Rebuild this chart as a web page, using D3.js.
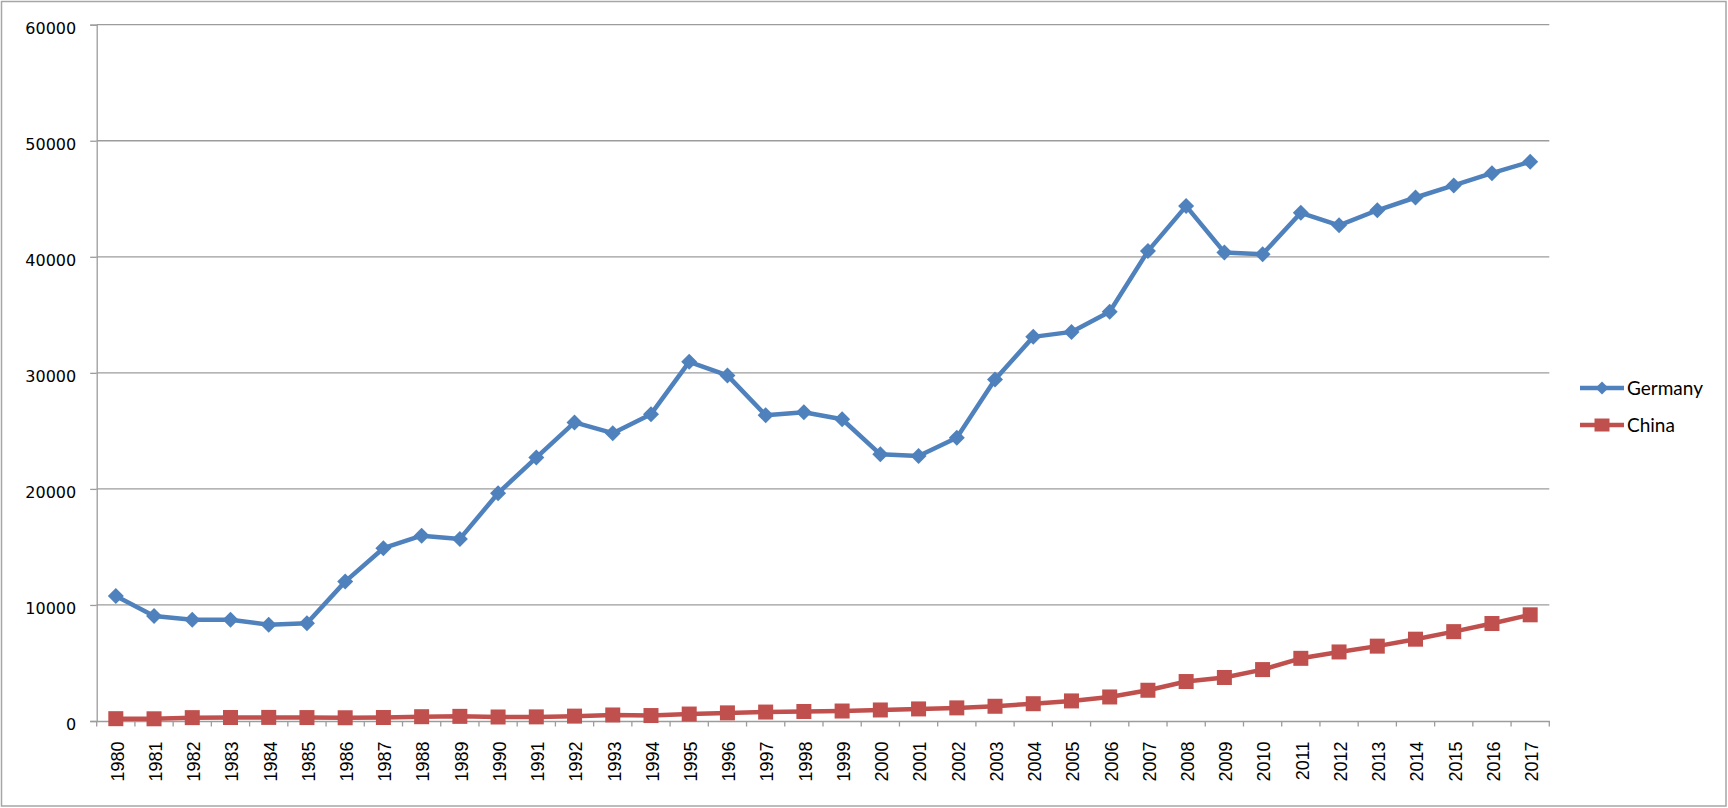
<!DOCTYPE html>
<html>
<head>
<meta charset="utf-8">
<script src="https://cdn.jsdelivr.net/npm/d3@7"></script>
<style>
  html, body { margin: 0; padding: 0; background: #fff; }
  svg { display: block; }
</style>
</head>
<body>
<svg id="chart" width="1728" height="808"></svg>
<script>
const years = [1980,1981,1982,1983,1984,1985,1986,1987,1988,1989,1990,1991,1992,1993,1994,1995,1996,1997,1998,1999,2000,2001,2002,2003,2004,2005,2006,2007,2008,2009,2010,2011,2012,2013,2014,2015,2016,2017];
const germany = [10770,9050,8730,8720,8300,8420,12010,14890,15970,15690,19630,22700,25730,24800,26440,30950,29780,26350,26600,26000,22980,22840,24400,29430,33100,33530,35260,40490,44370,40380,40230,43790,42710,44010,45110,46150,47210,48190];
const china = [200,190,290,300,310,295,280,300,370,400,345,355,420,520,470,600,700,770,820,860,950,1040,1130,1270,1490,1730,2070,2650,3400,3750,4430,5400,5950,6450,7050,7700,8400,9150];
const yTicks = [0,10000,20000,30000,40000,50000,60000];
const seriesNames = ["Germany","China"];
const seriesColors = ["#4F81BD","#C0504D"];

(function () {
const svg = d3.select("#chart");
const W = 1728, H = 808;
const pLeft = 96.7, pRight = 1549.3, pTop = 24.7, pBottom = 721;

// outer frame
svg.append("rect").attr("x",1.5).attr("y",1.5).attr("width",W-3.5).attr("height",H-3.5)
  .attr("fill","#fff").attr("stroke","#a6a6a6").attr("stroke-width",1.5);

const x = d3.scaleBand().domain(years).range([pLeft,pRight]).paddingInner(0).paddingOuter(0);
const y = d3.scaleLinear().domain([0,60000]).range([pBottom,pTop]);
const gridColor = "#9c9c9c";

// gridlines
svg.append("g").selectAll("line").data(yTicks.filter(d=>d>0)).join("line")
  .attr("x1",pLeft).attr("x2",pRight)
  .attr("y1",d=>y(d)).attr("y2",d=>y(d))
  .attr("stroke",gridColor).attr("stroke-width",1.3);

// y axis
const yAxis = d3.axisLeft(y).tickValues(yTicks).tickSize(6.5).tickPadding(14).tickFormat(d3.format("d"));
const gy = svg.append("g").attr("transform",`translate(${pLeft},0)`).call(yAxis);
gy.select(".domain").attr("stroke",gridColor).attr("stroke-width",1.3);
gy.selectAll(".tick line").attr("stroke",gridColor).attr("stroke-width",1.3);
gy.selectAll(".tick text").attr("fill","#000").attr("font-family","DejaVu Sans").attr("font-size",16)
  .attr("dy","0.52em");

// x axis
const xAxis = d3.axisBottom(x).tickSize(0).tickFormat(d=>String(d));
const gx = svg.append("g").attr("transform",`translate(0,${pBottom})`).call(xAxis);
gx.select(".domain").attr("stroke",gridColor).attr("stroke-width",1.3);
gx.selectAll(".tick text")
  .attr("fill","#000").attr("font-family","Liberation Sans").attr("font-size",18)
  .attr("text-anchor","end")
  .attr("transform","translate(1.5,20.5) rotate(-90)")
  .attr("x",0).attr("y",0).attr("dy","0.35em");
// boundary tick marks
const bounds = years.map(d=>x(d)).concat([x(years[years.length-1])+x.bandwidth()]);
svg.append("g").selectAll("line").data(bounds).join("line")
  .attr("x1",d=>d).attr("x2",d=>d).attr("y1",pBottom).attr("y2",pBottom+5.5)
  .attr("stroke",gridColor).attr("stroke-width",1.3);

const cx = d => x(d) + x.bandwidth()/2;
const line = d3.line().x((d,i)=>cx(years[i])).y(d=>y(d));

const diamond = (s) => `M0,${-s}L${s},0L0,${s}L${-s},0Z`;

// China
svg.append("path").datum(china).attr("d",line).attr("fill","none")
  .attr("stroke",seriesColors[1]).attr("stroke-width",4.5).attr("stroke-linejoin","round");
svg.append("g").selectAll("rect").data(china).join("rect")
  .attr("x",(d,i)=>cx(years[i])-7.5).attr("y",d=>y(d)-7.5)
  .attr("width",15).attr("height",15).attr("fill",seriesColors[1]);

// Germany
svg.append("path").datum(germany).attr("d",line).attr("fill","none")
  .attr("stroke",seriesColors[0]).attr("stroke-width",4.5).attr("stroke-linejoin","round");
svg.append("g").selectAll("path").data(germany).join("path")
  .attr("transform",(d,i)=>`translate(${cx(years[i])},${y(d)})`)
  .attr("d",diamond(8)).attr("fill",seriesColors[0]);

// legend
const legendY = [388, 425];
const lg = svg.append("g");
seriesNames.forEach((name,i)=>{
  const g = lg.append("g").attr("transform",`translate(0,${legendY[i]})`);
  g.append("line").attr("x1",1580).attr("x2",1624).attr("y1",0).attr("y2",0)
    .attr("stroke",seriesColors[i]).attr("stroke-width",4.5);
  if (i===0) {
    g.append("path").attr("transform","translate(1602,0)").attr("d",diamond(6.5)).attr("fill",seriesColors[i]);
  } else {
    g.append("rect").attr("x",1602-7.5).attr("y",-6.5).attr("width",15).attr("height",13).attr("fill",seriesColors[i]);
  }
  g.append("text").attr("x",1627).attr("y",0).attr("dy","0.36em")
    .attr("font-family","Lato").attr("font-size",19).attr("fill","#000").text(name);
});
})();
</script>
</body>
</html>
